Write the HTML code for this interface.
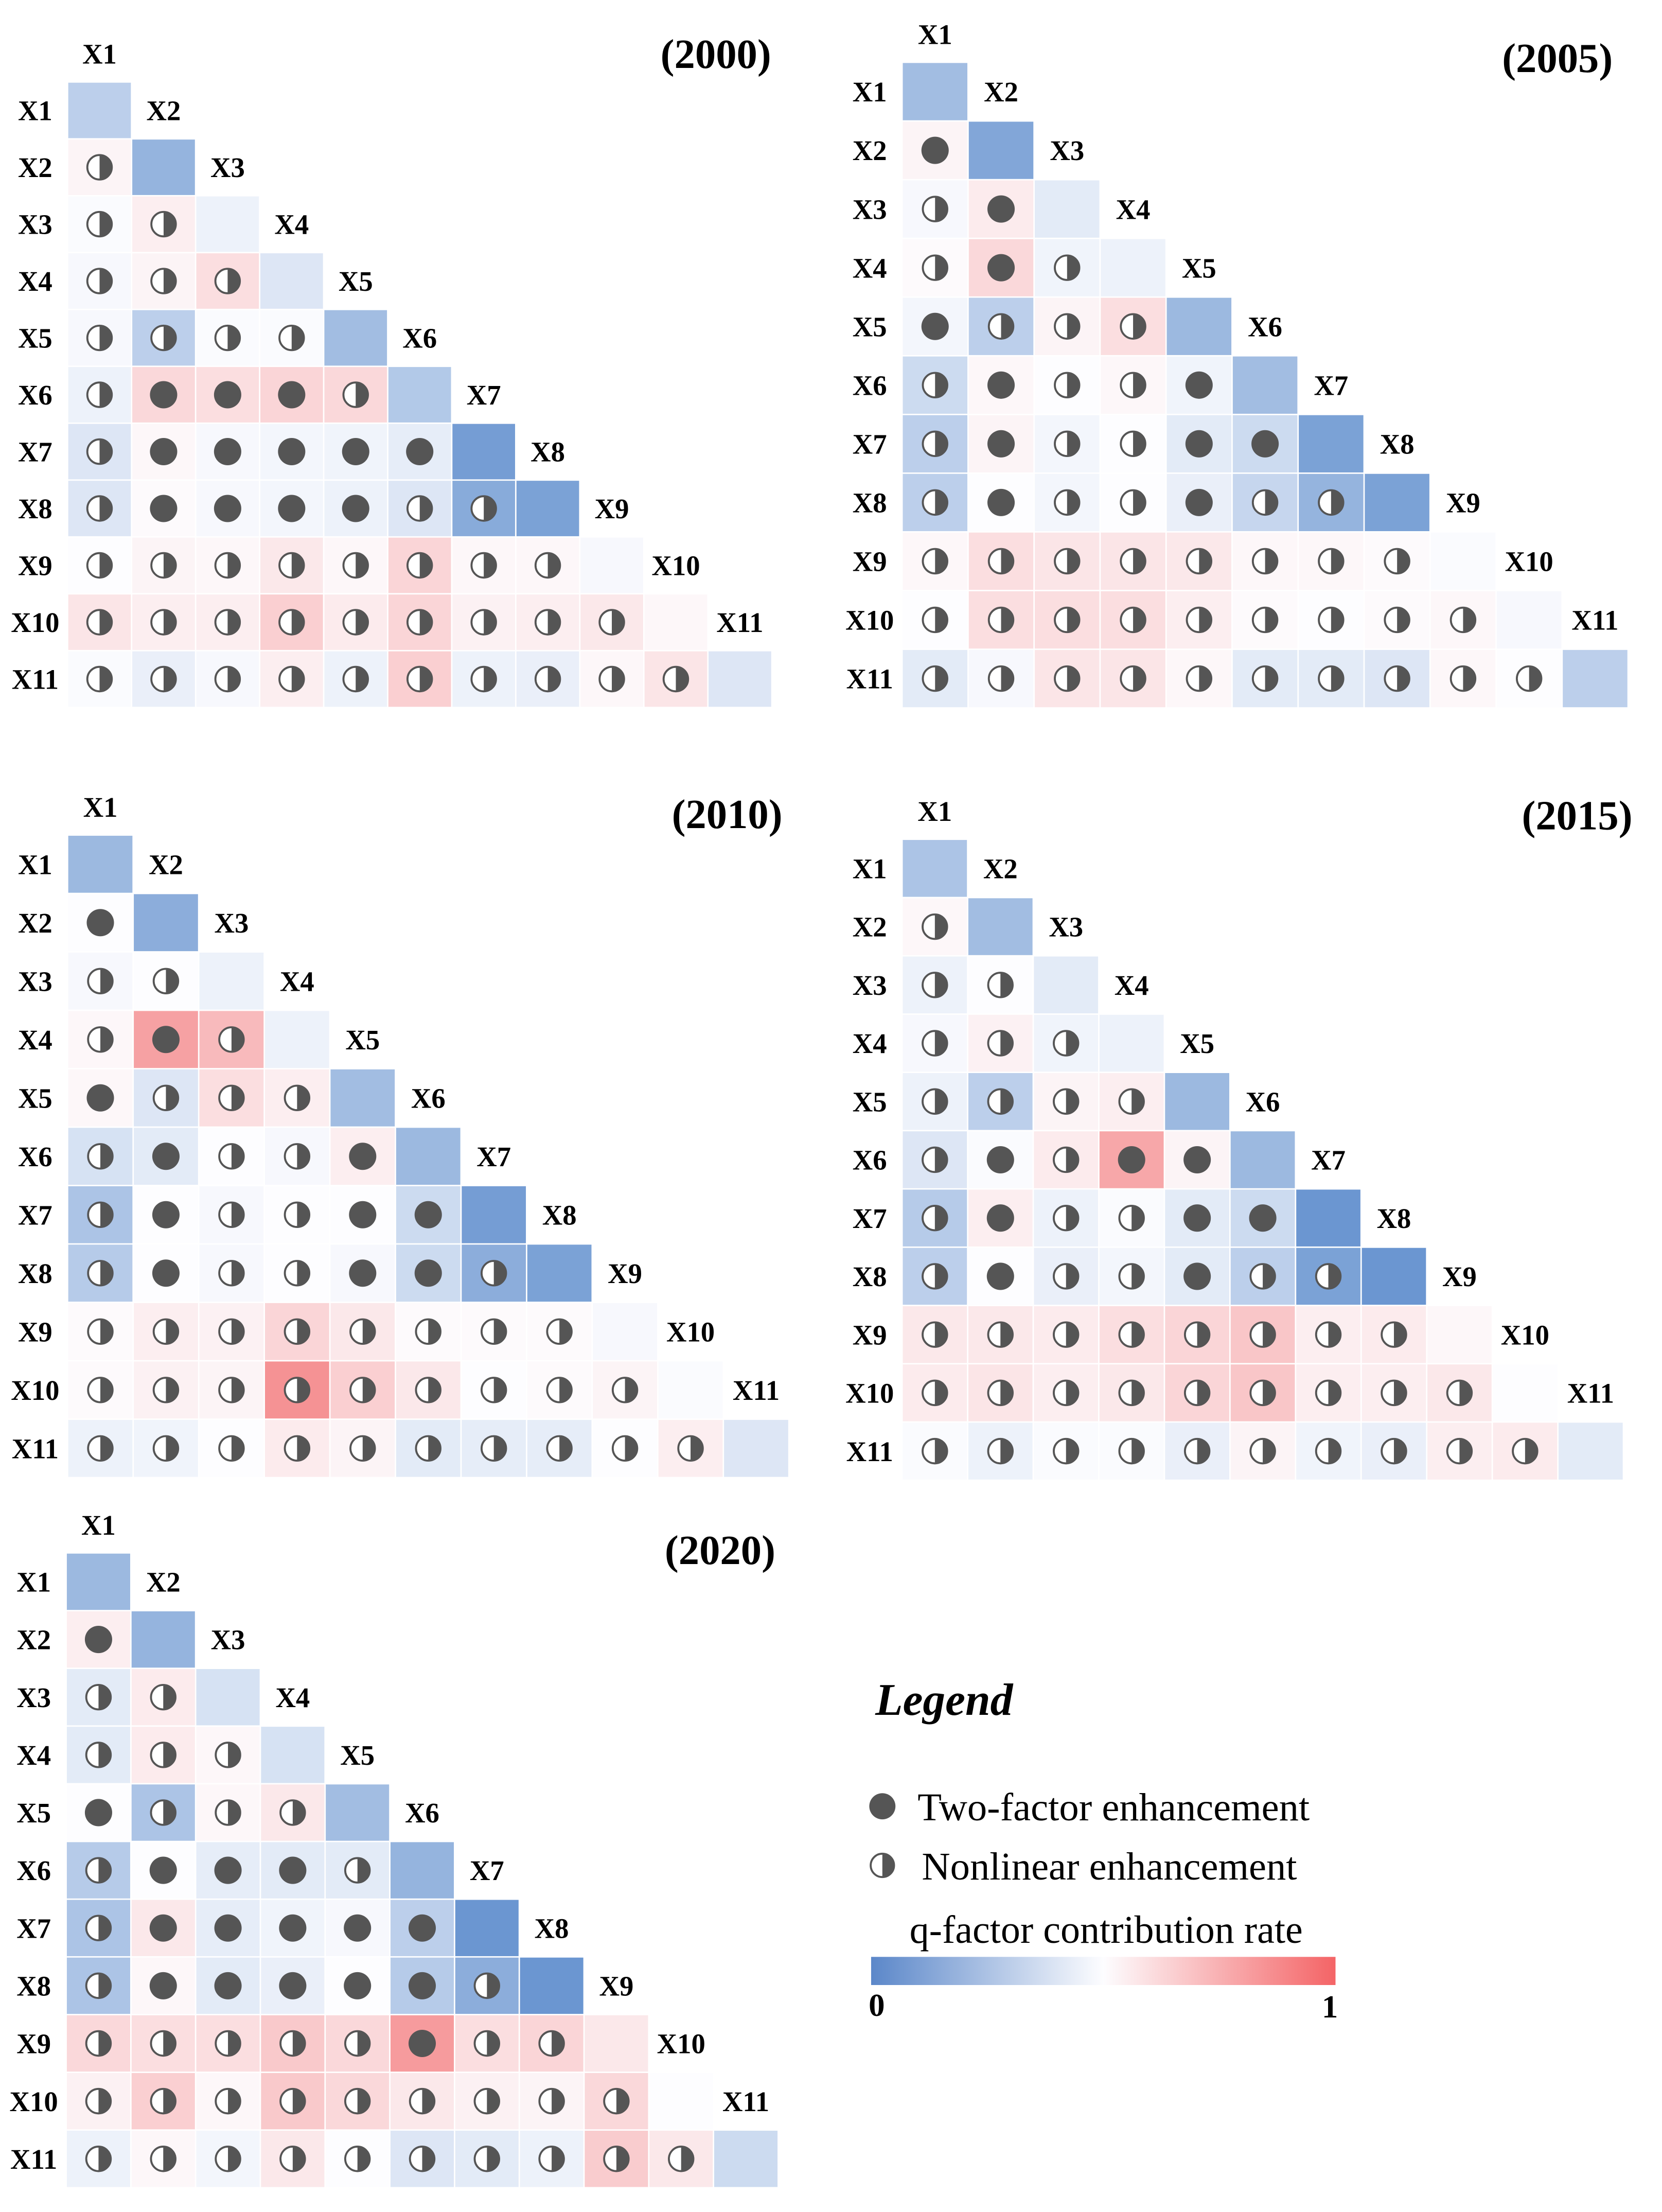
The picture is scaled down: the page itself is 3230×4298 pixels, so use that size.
<!DOCTYPE html>
<html><head><meta charset="utf-8"><style>
html,body{margin:0;padding:0;background:#fff}
svg{display:block}
text{font-family:"Liberation Serif",serif}
</style></head><body>
<svg id="chart" width="3230" height="4298" viewBox="0 0 1181 1571" xmlns="http://www.w3.org/2000/svg">
<g id="panels"></g>
<g id="legend">
<defs><linearGradient id="lg" x1="0" x2="1" y1="0" y2="0"><stop offset="0" stop-color="#5b87c9"/><stop offset="0.5" stop-color="#fdfdff"/><stop offset="1" stop-color="#f46466"/></linearGradient></defs>
<text x="622" y="1218" font-size="32" font-style="italic" font-weight="bold">Legend</text>
<circle cx="627" cy="1283" r="9.3" fill="#555"/>
<text x="652" y="1293" font-size="28">Two-factor enhancement</text>
<g><circle cx="627" cy="1325" r="8.3" fill="#fff" stroke="#555" stroke-width="1.4"/><path d="M627,1316.7 A8.3,8.3 0 0 1 627,1333.3 Z" fill="#555"/></g>
<text x="655" y="1335" font-size="28">Nonlinear enhancement</text>
<text x="786" y="1380" font-size="27.8" text-anchor="middle">q-factor contribution rate</text>
<rect x="619" y="1390" width="330" height="20" fill="url(#lg)"/>
<text x="623" y="1432" font-size="23" font-weight="bold" text-anchor="middle">0</text>
<text x="945" y="1433" font-size="23" font-weight="bold" text-anchor="middle">1</text>
</g>
</svg>
<script>
const labels = ["X1","X2","X3","X4","X5","X6","X7","X8","X9","X10","X11"];
const years = ["2000","2005","2010","2015","2020"];
const diag2000 = [0.3,0.18,0.45,0.4,0.22,0.27,0.08,0.1,0.48,0.52,0.4];
const vals2000 = [[],[0.53],[0.49,0.55],[0.48,0.53,0.6],[0.48,0.3,0.49,0.49],[0.45,0.62,0.6,0.63,0.62],[0.4,0.52,0.48,0.47,0.46,0.43],[0.4,0.51,0.48,0.47,0.45,0.4,0.14],[0.5,0.53,0.52,0.57,0.52,0.63,0.52,0.52],[0.58,0.55,0.55,0.65,0.56,0.63,0.54,0.55,0.57],[0.49,0.44,0.48,0.55,0.45,0.65,0.45,0.44,0.52,0.58]];
const syms2000 = [[],[0],[0,0],[0,0,0],[0,0,0,0],[0,1,1,1,0],[0,1,1,1,1,1],[0,1,1,1,1,0,0],[0,0,0,0,0,0,0,0],[0,0,0,0,0,0,0,0,0],[0,0,0,0,0,0,0,0,0,0]];
const diag2005 = [0.22,0.12,0.42,0.45,0.2,0.22,0.1,0.1,0.49,0.48,0.3];
const vals2005 = [[],[0.53],[0.48,0.56],[0.51,0.62,0.46],[0.47,0.3,0.53,0.6],[0.35,0.52,0.5,0.52,0.46],[0.3,0.53,0.47,0.5,0.42,0.35],[0.3,0.5,0.47,0.5,0.44,0.33,0.18],[0.52,0.6,0.58,0.58,0.57,0.52,0.52,0.51],[0.5,0.6,0.6,0.6,0.55,0.51,0.5,0.51,0.52],[0.42,0.48,0.58,0.58,0.52,0.42,0.42,0.4,0.52,0.5]];
const syms2005 = [[],[1],[0,1],[0,1,0],[1,0,0,0],[0,1,0,0,1],[0,1,0,0,1,1],[0,1,0,0,1,0,0],[0,0,0,0,0,0,0,0],[0,0,0,0,0,0,0,0,0],[0,0,0,0,0,0,0,0,0,0]];
const diag2010 = [0.2,0.15,0.45,0.45,0.22,0.2,0.08,0.1,0.48,0.49,0.4];
const vals2010 = [[],[0.5],[0.48,0.5],[0.52,0.8,0.72],[0.52,0.4,0.6,0.55],[0.38,0.42,0.5,0.48,0.55],[0.25,0.5,0.48,0.5,0.5,0.35],[0.28,0.5,0.48,0.5,0.48,0.35,0.15],[0.51,0.55,0.54,0.63,0.57,0.51,0.51,0.51],[0.51,0.54,0.53,0.85,0.65,0.57,0.5,0.51,0.53],[0.45,0.46,0.5,0.56,0.53,0.42,0.43,0.43,0.5,0.55]];
const syms2010 = [[],[1],[0,0],[0,1,0],[1,0,0,0],[0,1,0,0,1],[0,1,0,0,1,1],[0,1,0,0,1,1,0],[0,0,0,0,0,0,0,0],[0,0,0,0,0,0,0,0,0],[0,0,0,0,0,0,0,0,0,0]];
const diag2015 = [0.25,0.22,0.42,0.45,0.2,0.2,0.05,0.05,0.52,0.5,0.42];
const vals2015 = [[],[0.52],[0.45,0.5],[0.48,0.54,0.46],[0.45,0.3,0.53,0.55],[0.4,0.49,0.56,0.78,0.53],[0.28,0.55,0.45,0.49,0.42,0.35],[0.3,0.5,0.44,0.47,0.42,0.3,0.1],[0.57,0.57,0.56,0.6,0.63,0.68,0.55,0.56],[0.56,0.58,0.55,0.57,0.63,0.68,0.55,0.55,0.57],[0.49,0.45,0.49,0.49,0.44,0.53,0.46,0.44,0.55,0.56]];
const syms2015 = [[],[0],[0,0],[0,0,0],[0,0,0,0],[0,1,0,1,1],[0,1,0,0,1,1],[0,1,0,0,1,0,0],[0,0,0,0,0,0,0,0],[0,0,0,0,0,0,0,0,0],[0,0,0,0,0,0,0,0,0,0]];
const diag2020 = [0.2,0.18,0.38,0.38,0.22,0.18,0.05,0.05,0.57,0.5,0.35];
const vals2020 = [[],[0.55],[0.42,0.56],[0.42,0.56,0.52],[0.5,0.25,0.52,0.57],[0.28,0.5,0.43,0.42,0.42],[0.25,0.57,0.43,0.46,0.48,0.3],[0.25,0.52,0.42,0.44,0.5,0.28,0.15],[0.62,0.6,0.6,0.67,0.62,0.82,0.6,0.63],[0.54,0.65,0.52,0.67,0.62,0.57,0.54,0.53,0.62],[0.45,0.52,0.47,0.57,0.5,0.4,0.42,0.45,0.66,0.57]];
const syms2020 = [[],[1],[0,0],[0,0,0],[1,0,0,0],[0,1,1,1,0],[0,1,1,1,1,1],[0,1,1,1,1,1,0],[0,0,0,0,0,1,0,0],[0,0,0,0,0,0,0,0,0],[0,0,0,0,0,0,0,0,0,0]];

const diags = [diag2000,diag2005,diag2010,diag2015,diag2020];
const vals = [vals2000,vals2005,vals2010,vals2015,vals2020];
const syms = [syms2000,syms2005,syms2010,syms2015,syms2020];
const layout = [
 {x0:48,y0:58,cw:45.5,ch:40.4,tx:548,ty:48},
 {x0:641,y0:44,cw:46.9,ch:41.7,tx:1146,ty:51},
 {x0:48,y0:593,cw:46.6,ch:41.5,tx:556,ty:588},
 {x0:641,y0:596,cw:46.6,ch:41.4,tx:1160,ty:589},
 {x0:47,y0:1103,cw:46,ch:41,tx:551,ty:1111}
];
const NS="http://www.w3.org/2000/svg";
function mk(tag,attrs,parent){const e=document.createElementNS(NS,tag);for(const k in attrs)e.setAttribute(k,attrs[k]);parent.appendChild(e);return e;}
function lerp(a,b,t){return Math.round(a+(b-a)*t);}
function color(v){
  const lo=[91,139,204],mid=[253,253,255],hi=[242,100,102];
  let a,b,t;
  if(v<0.5){a=lo;b=mid;t=v/0.5;}else{a=mid;b=hi;t=(v-0.5)/0.5;}
  return `rgb(${lerp(a[0],b[0],t)},${lerp(a[1],b[1],t)},${lerp(a[2],b[2],t)})`;
}
const root=document.getElementById('panels');
years.forEach((yr,p)=>{
  const L=layout[p];
  const g=mk('g',{},root);
  
  
  const xs=j=>L.x0+j*L.cw, ys=i=>L.y0+i*L.ch;
  const t=mk('text',{x:L.tx,y:L.ty,'font-size':29.5,'font-weight':'bold','text-anchor':'end'},g);
  t.textContent='('+yr+')';
  
  
  for(let i=0;i<11;i++){
    const rl=mk('text',{x:L.x0-23,y:ys(i)+L.ch/2+7,'font-size':20,'font-weight':'bold','text-anchor':'middle'},g);
    rl.textContent=labels[i];
    
    
    const cl=mk('text',{x:xs(i)+L.cw/2,y:(i===0?ys(0)-20:ys(i-1)+L.ch/2)+7,'font-size':20,'font-weight':'bold','text-anchor':'middle'},g);
    cl.textContent=labels[i];
    
    
    for(let j=0;j<=i;j++){
      const v=(i===j)?diags[p][i]:vals[p][i][j];
      const r=mk('rect',{x:xs(j)+0.5,y:ys(i)+0.5,width:L.cw-1,height:L.ch-1,fill:color(v)},g);
      
      
      if(i!==j){
        const cx=xs(j)+L.cw/2, cy=ys(i)+L.ch/2, rad=9.3;
        if(syms[p][i][j]===1){
          const c=mk('circle',{cx:cx,cy:cy,r:rad+0.4,fill:'#555'},g);
          
          
        }else{
          const h=mk('g',{},g);
          
          
          mk('circle',{cx:cx,cy:cy,r:rad-0.6,fill:'#fff',stroke:'#555','stroke-width':1.4},h);
          mk('path',{d:`M${cx},${cy-rad+0.6} A${rad-0.6},${rad-0.6} 0 0 1 ${cx},${cy+rad-0.6} Z`,fill:'#555'},h);
        }
      }
    }
  }
});
</script>
</body></html>
